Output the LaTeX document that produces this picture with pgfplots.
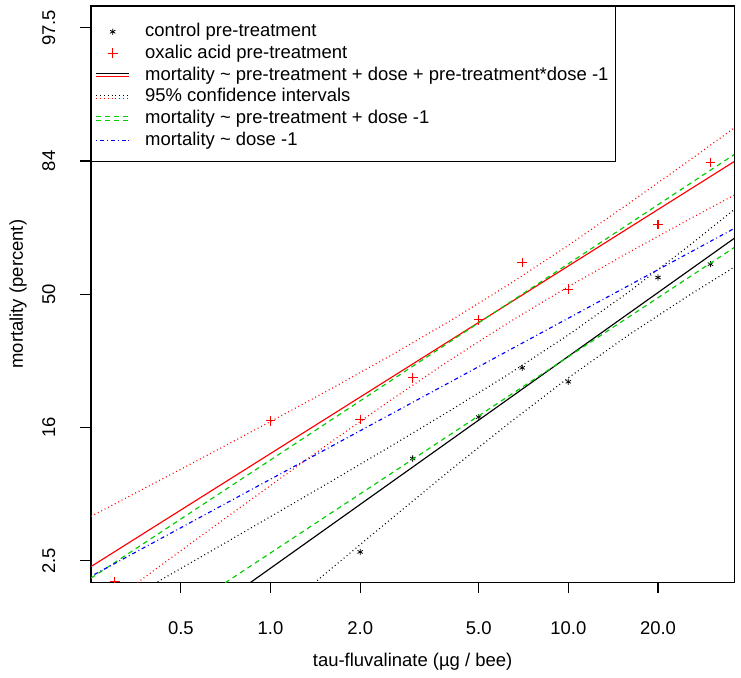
\documentclass[border=0pt]{standalone}
\usepackage{fontspec}
\setmainfont{Liberation Sans}
\usepackage{pgfplots}
\pgfplotsset{compat=1.18}
\definecolor{rgreen}{RGB}{0,205,0}
\begin{document}
\begin{tikzpicture}[font=\fontsize{12}{14.4}\selectfont]
\useasboundingbox (-59.15pt,-62.2pt) rectangle (422.5pt,378.5pt);
\begin{axis}[
  at={(0,0)}, anchor=south west, scale only axis,
  width=418.1pt, height=374.6pt,
  xmode=log, log basis x=10,
  xmin=0.2495, xmax=36.06, ymin=-2.163, ymax=2.163,
  xtick={0.5,1,2,5,10,20}, xticklabels={0.5,1.0,2.0,5.0,10.0,20.0},
  ytick={-2,-1,0,1,2}, yticklabels={2.5,16,50,84,97.5},
  xminorticks=false, yminorticks=false,
  tick align=outside, major tick length=7pt,
  xtick pos=bottom, ytick pos=left,
  clip marker paths=true,
  axis line style={black, line width=0.75pt},
  every tick/.style={black, line width=0.75pt},
  xticklabel style={anchor=base}, xticklabel shift=26.7pt,
  yticklabel style={rotate=90, anchor=base}, yticklabel shift=16.25pt,
  xlabel={tau-fluvalinate (µg / bee)},
  ylabel={mortality (percent)},
  xlabel style={at={([yshift=-54.5pt]axis description cs:0.5,0)}, anchor=base},
  ylabel style={at={([xshift=-44.2pt]axis description cs:0,0.5)}, anchor=base},
  legend cell align=left,
  legend image code/.code={\draw[mark repeat=2,mark phase=2,#1] plot coordinates {(0pt,-1.3pt)(10.75pt,-1.3pt)(21.5pt,-1.3pt)};},
  legend style={at={(0,1)}, anchor=north west, draw=black, line width=0.75pt, fill=white,
    inner xsep=2.6pt, inner ysep=8pt,
    /tikz/every odd column/.style={column sep=8pt},
    nodes={inner xsep=2pt, inner ysep=1.25pt, text height=10.3pt, text depth=1.3pt}},
]
% data points
\addplot[only marks, mark=asterisk, mark size=2pt, black, mark options={line width=0.5pt}]
  coordinates {(2,-1.935) (3,-1.234) (5,-0.923) (7,-0.553) (10,-0.658) (20,0.125) (30,0.225)};
\addlegendentry{control pre-treatment}
\addplot[only marks, mark=+, mark size=3.2pt, red, mark options={line width=0.7pt}]
  coordinates {(0.3,-2.158) (1,-0.951) (2,-0.941) (3,-0.628) (5,-0.193) (7,0.237) (10,0.038) (20,0.523) (30,0.988)};
\addlegendentry{oxalic acid pre-treatment}
% interaction model
\addplot[red, line width=0.75pt,
  legend image code/.code={\draw[black,line width=0.75pt] (0pt,-0.2pt)--(21.5pt,-0.2pt); \draw[red,line width=0.75pt] (0pt,-2.4pt)--(21.5pt,-2.4pt);}]
  coordinates {(0.2495,-2.045) (36.06,0.9955)};
\addlegendentry{mortality \textasciitilde{} pre-treatment + dose + pre-treatment*dose -1}
\addplot[black, line width=0.75pt, forget plot]
  coordinates {(0.2495,-3.016) (36.06,0.419)};
% confidence intervals
\addplot[red, line width=0.75pt, dash pattern=on 0.6pt off 1.9pt,
  legend image code/.code={\draw[black,line width=0.75pt,dash pattern=on 0.6pt off 1.9pt] (0pt,-0.2pt)--(21.5pt,-0.2pt); \draw[red,line width=0.75pt,dash pattern=on 0.6pt off 1.9pt] (0pt,-2.4pt)--(21.5pt,-2.4pt);}]
  coordinates {(0.2495,-1.668) (0.3981,-1.430) (0.631,-1.1945) (1,-0.956) (1.585,-0.7145) (2.512,-0.465) (3.981,-0.2045) (6.310,0.072) (10,0.3665) (15.85,0.676) (25.12,0.9935) (36.06,1.2475)};
\addlegendentry{95\% confidence intervals}
\addplot[red, line width=0.75pt, dash pattern=on 0.6pt off 1.9pt, forget plot]
  coordinates {(0.2495,-2.422) (0.3981,-2.088) (0.631,-1.7605) (1,-1.436) (1.585,-1.1145) (2.512,-0.801) (3.981,-0.4985) (6.310,-0.212) (10,0.0565) (15.85,0.310) (25.12,0.5555) (36.06,0.7435)};
\addplot[black, line width=0.75pt, dash pattern=on 0.6pt off 1.9pt, forget plot]
  coordinates {(0.2495,-2.447) (0.3981,-2.186) (0.631,-1.929) (1,-1.670) (1.585,-1.410) (2.512,-1.146) (3.981,-0.878) (6.310,-0.600) (10,-0.306) (15.85,0.012) (25.12,0.354) (36.06,0.635)};
\addplot[black, line width=0.75pt, dash pattern=on 0.6pt off 1.9pt, forget plot]
  coordinates {(0.2495,-3.585) (0.3981,-3.200) (0.631,-2.821) (1,-2.444) (1.585,-2.068) (2.512,-1.696) (3.981,-1.328) (6.310,-0.970) (10,-0.628) (15.85,-0.310) (25.12,-0.016) (36.06,0.203)};
% additive model
\addplot[rgreen, line width=0.75pt, dash pattern=on 3.2pt off 2.6pt,
  legend image code/.code={\draw[rgreen,line width=0.75pt,dash pattern=on 3.2pt off 2.6pt] (0pt,-0.2pt)--(21.5pt,-0.2pt); \draw[rgreen,line width=0.75pt,dash pattern=on 3.2pt off 2.6pt] (0pt,-2.4pt)--(21.5pt,-2.4pt);}]
  coordinates {(0.2495,-2.132) (36.06,1.048)};
\addlegendentry{mortality \textasciitilde{} pre-treatment + dose -1}
\addplot[rgreen, line width=0.75pt, dash pattern=on 3.2pt off 2.6pt, forget plot]
  coordinates {(0.2495,-2.830) (36.06,0.350)};
% dose only model
\addplot[blue, line width=0.75pt, dash pattern=on 0.6pt off 1.9pt on 2.6pt off 1.9pt,
  legend image code/.code={\draw[blue,line width=0.75pt,dash pattern=on 0.6pt off 1.9pt on 2.6pt off 1.9pt] (0pt,-1.3pt)--(21.5pt,-1.3pt);}]
  coordinates {(0.2495,-2.118) (36.06,0.493)};
\addlegendentry{mortality \textasciitilde{} dose -1}
\end{axis}
\end{tikzpicture}
\end{document}
